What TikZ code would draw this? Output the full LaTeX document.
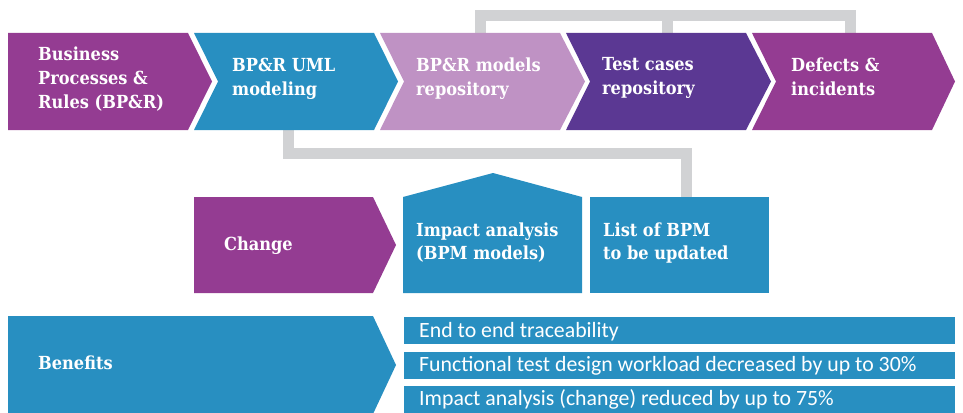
\documentclass[tikz,border=0pt]{standalone}
\usepackage{fontspec}
\newfontfamily\slab{DejaVu Serif}[FakeStretch=0.9]
\newfontfamily\plainsans{Carlito}
\definecolor{cPurple}{HTML}{943C92}
\definecolor{cBlue}{HTML}{288FC1}
\definecolor{cLilac}{HTML}{BF92C4}
\definecolor{cViolet}{HTML}{5B3893}
\definecolor{cGray}{HTML}{D1D2D4}
\begin{document}
\begin{tikzpicture}[x=1pt,y=-1pt,
  link/.style={draw=cGray,line width=11.5pt,line join=miter},
  toptext/.style={anchor=north west,inner sep=0pt,align=left,text=white,
    font=\slab\bfseries\fontsize{18}{24}\selectfont},
  midtext/.style={anchor=north west,inner sep=0pt,align=left,text=white,
    font=\slab\bfseries\fontsize{18}{23}\selectfont},
  onetext/.style={anchor=base west,inner sep=0pt,text=white,
    font=\slab\bfseries\fontsize{18}{24}\selectfont},
  bartext/.style={anchor=base west,inner sep=0pt,text=white,
    font=\plainsans\fontsize{21.8}{24}\selectfont}]
\useasboundingbox (0,0) rectangle (963,412);
\clip (0,0) rectangle (963,412);
% connector end points
\coordinate (c2b) at (288.5,130);
\coordinate (c3t) at (480.5,33);
\coordinate (c4t) at (667.5,33);
\coordinate (c5t) at (850.5,33);
\coordinate (listt) at (686.5,197);
% connectors
\draw[link] (c3t) -- ++(0,-17.5) -| (c5t);
\draw[link] (c4t) -- ++(0,-17.5);
\draw[link] (c2b) -- ++(0,23.5) -| (listt);
% top chevrons
\fill[cPurple] (8,33) -- (188,33) -- (212,81.5) -- (188,130) -- (8,130) -- cycle;
\fill[cBlue] (194,33) -- (374,33) -- (398,81.5) -- (374,130) -- (194,130) -- (218,81.5) -- cycle;
\fill[cLilac] (380,33) -- (560,33) -- (585,81.5) -- (560,130) -- (380,130) -- (404,81.5) -- cycle;
\fill[cViolet] (566,33) -- (746,33) -- (771,81.5) -- (746,130) -- (566,130) -- (590,81.5) -- cycle;
\fill[cPurple] (752,33) -- (932,33) -- (955,81.5) -- (932,130) -- (752,130) -- (776,81.5) -- cycle;
% middle row
\fill[cPurple] (194,197) -- (373,197) -- (396,245) -- (373,293) -- (194,293) -- cycle;
\fill[cBlue] (403,197) -- (493,173) -- (582,197) -- (582,293) -- (403,293) -- cycle;
\fill[cBlue] (590,197) rectangle (769,293);
% bottom row
\fill[cBlue] (8,316) -- (373,316) -- (396,365) -- (373,414) -- (8,414) -- cycle;
\fill[cBlue] (404,317) rectangle (955,344);
\fill[cBlue] (404,352) rectangle (955,379);
\fill[cBlue] (404,386) rectangle (955,413);
% texts
\node[toptext] (t1) at (38,46.5) {Business\\Processes \&\\Rules (BP\&R)};
\node[toptext] (t2) at (232,57.5) {BP\&R UML\\modeling};
\node[toptext] (t3) at (416,57.5) {BP\&R models\\repository};
\node[toptext] (t4) at (602,57.5) {Test cases\\repository};
\node[toptext] (t5) at (791,57.5) {Defects \&\\incidents};
\node[onetext] (change) at (224,250) {Change};
\node[midtext] (impact) at (416,223) {Impact analysis\\(BPM models)};
\node[midtext] (list) at (603,223) {List of BPM\\to be updated};
\node[onetext] (benefits) at (38,369) {Benefits};
\node[bartext] (b1) at (419,337) {End to end traceability};
\node[bartext] (b2) at (419,371) {Functional test design workload decreased by up to 30\%};
\node[bartext] (b3) at (419,405) {Impact analysis (change) reduced by up to 75\%};
\end{tikzpicture}
\end{document}
